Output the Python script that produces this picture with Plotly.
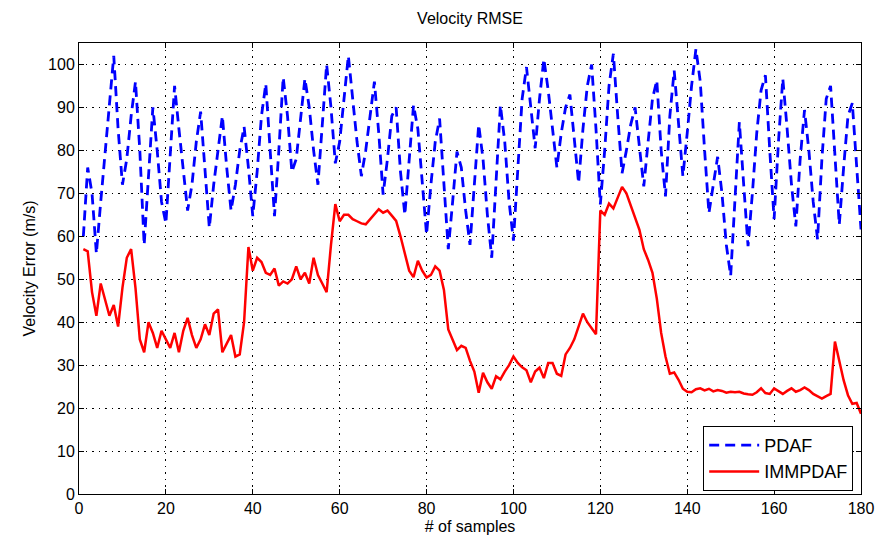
import plotly.graph_objects as go

samples = list(range(1, 181))

pdaf = [60, 76, 70, 56, 68, 80, 90, 102, 85, 72,
        78, 88, 96, 80, 58, 75, 90, 80, 68, 63,
        80, 95, 85, 75, 66, 72, 82, 89, 75, 62,
        72, 80, 88, 76, 66, 72, 80, 85.5, 76, 64.7,
        75, 88, 95.5, 80, 64.7, 80, 97, 88, 75, 78,
        88, 96.7, 90, 80, 72, 85, 100, 90, 77, 82,
        92, 102, 92, 82, 74, 80, 88, 96, 84, 69.7,
        78, 88, 90, 75, 65, 78, 90.5, 85, 72, 60.4,
        72, 82, 87.4, 72, 57, 68, 79.7, 76, 66, 58,
        72, 86, 78, 65, 55, 72, 90.5, 82, 68, 59,
        75, 92, 99.4, 90, 80.5, 92, 101.3, 94, 85, 76,
        84, 90, 93, 82, 72.4, 85, 95, 100, 85, 67.4,
        80, 95, 102.5, 88, 74.7, 80, 86, 90, 80, 71.6,
        82, 92, 96.3, 80, 69.3, 88, 98.6, 86, 74, 84,
        95, 103.6, 96, 80, 65.4, 72, 78.5, 70, 58, 50.8,
        70, 86.6, 72, 57.7, 70, 84, 94, 97.5, 80, 64,
        82, 96.7, 85, 72, 62.3, 78, 89.4, 80, 68, 59.3,
        78, 92, 95, 78, 62.7, 76, 88, 91, 75, 61.6]

immpdaf = [57, 56.5, 47, 41.5, 49, 45, 41.5, 44, 39, 48,
           55, 57, 48, 36, 33, 40, 37.5, 34, 38, 36,
           34, 37.5, 33, 38, 41, 37, 34, 36, 39.5, 37,
           42, 43, 33, 35, 37, 32, 32.5, 40, 57.5, 52,
           55, 54, 51.5, 51, 52.5, 48.5, 49.5, 49, 50, 53,
           50, 51.5, 49, 55, 51, 49, 47, 58, 67.5, 63.5,
           65, 65, 64, 63.5, 63, 62.8, 64, 65, 66.3, 65.5,
           66, 64.8, 63.6, 60, 56, 52, 50.5, 54.3, 52, 50.4,
           51, 53, 52, 47.5, 38.3, 36, 33.5, 34.5, 34, 31,
           28.5, 23.6, 28.2, 26, 24.5, 27.4, 26.7, 28.5, 30, 32,
           30.5, 29.5, 28.8, 26, 28.5, 29.4, 27, 30.5, 30.5, 28,
           27.5, 32.5, 34, 36, 39, 42, 40, 38.5, 37.2, 66,
           65, 67.6, 66.5, 69, 71.5, 70, 67, 64.5, 61.5, 57,
           54.5, 51.5, 45.5, 37.5, 32, 28, 28.3, 26.6, 24.5, 23.8,
           23.7, 24.4, 24.6, 24.1, 24.5, 23.9, 24.2, 24, 23.6, 23.8,
           23.7, 23.8, 23.4, 23.2, 23.1, 23.7, 24.6, 23.5, 23.3, 24.6,
           24, 23.3, 24, 24.6, 23.8, 24.2, 24.8, 24.2, 23.3, 22.8,
           22.2, 22.8, 23.3, 35.5, 31, 26.5, 23, 21, 21.2, 18.7]

x_ticks = list(range(0, 181, 20))
y_ticks = list(range(0, 101, 10))

FONT = "Liberation Sans Narrow, Arial Narrow, Liberation Sans, sans-serif"

fig = go.Figure()
fig.add_trace(go.Scatter(x=samples, y=pdaf, mode="lines", name="PDAF",
                         line=dict(color="#0000FF", width=2.8, dash="10px,6px")))
fig.add_trace(go.Scatter(x=samples, y=immpdaf, mode="lines", name="IMMPDAF",
                         line=dict(color="#FF0000", width=2.5)))

axis_common = dict(showline=True, linecolor="black", linewidth=1, mirror="ticks",
                   ticks="inside", ticklen=5, tickcolor="black",
                   showgrid=True, gridcolor="black", griddash="1.5px,5px", gridwidth=1,
                   zeroline=False, tickfont=dict(family=FONT, size=16, color="black"))

fig.update_layout(
    width=886, height=552,
    paper_bgcolor="white", plot_bgcolor="white",
    margin=dict(l=79, r=16, t=43, b=58),
    title=dict(text="Velocity RMSE", x=0.5, xref="paper", y=1 - 18 / 552, yanchor="middle",
               font=dict(family=FONT, size=16, color="black")),
    xaxis=dict(range=[0, 180], tickvals=x_ticks,
               title=dict(text="# of samples", standoff=4,
                          font=dict(family=FONT, size=16, color="black")),
               **axis_common),
    yaxis=dict(range=[0, 105], tickvals=y_ticks,
               title=dict(text="Velocity Error (m/s)", standoff=8,
                          font=dict(family=FONT, size=16, color="black")),
               **axis_common),
    legend=dict(x=0.99, y=0.007, xanchor="right", yanchor="bottom",
                bgcolor="white", bordercolor="black", borderwidth=1,
                font=dict(family=FONT, size=18, color="black"),
                itemwidth=50, tracegroupgap=2),
    showlegend=True,
)

fig.write_html("out.html")
